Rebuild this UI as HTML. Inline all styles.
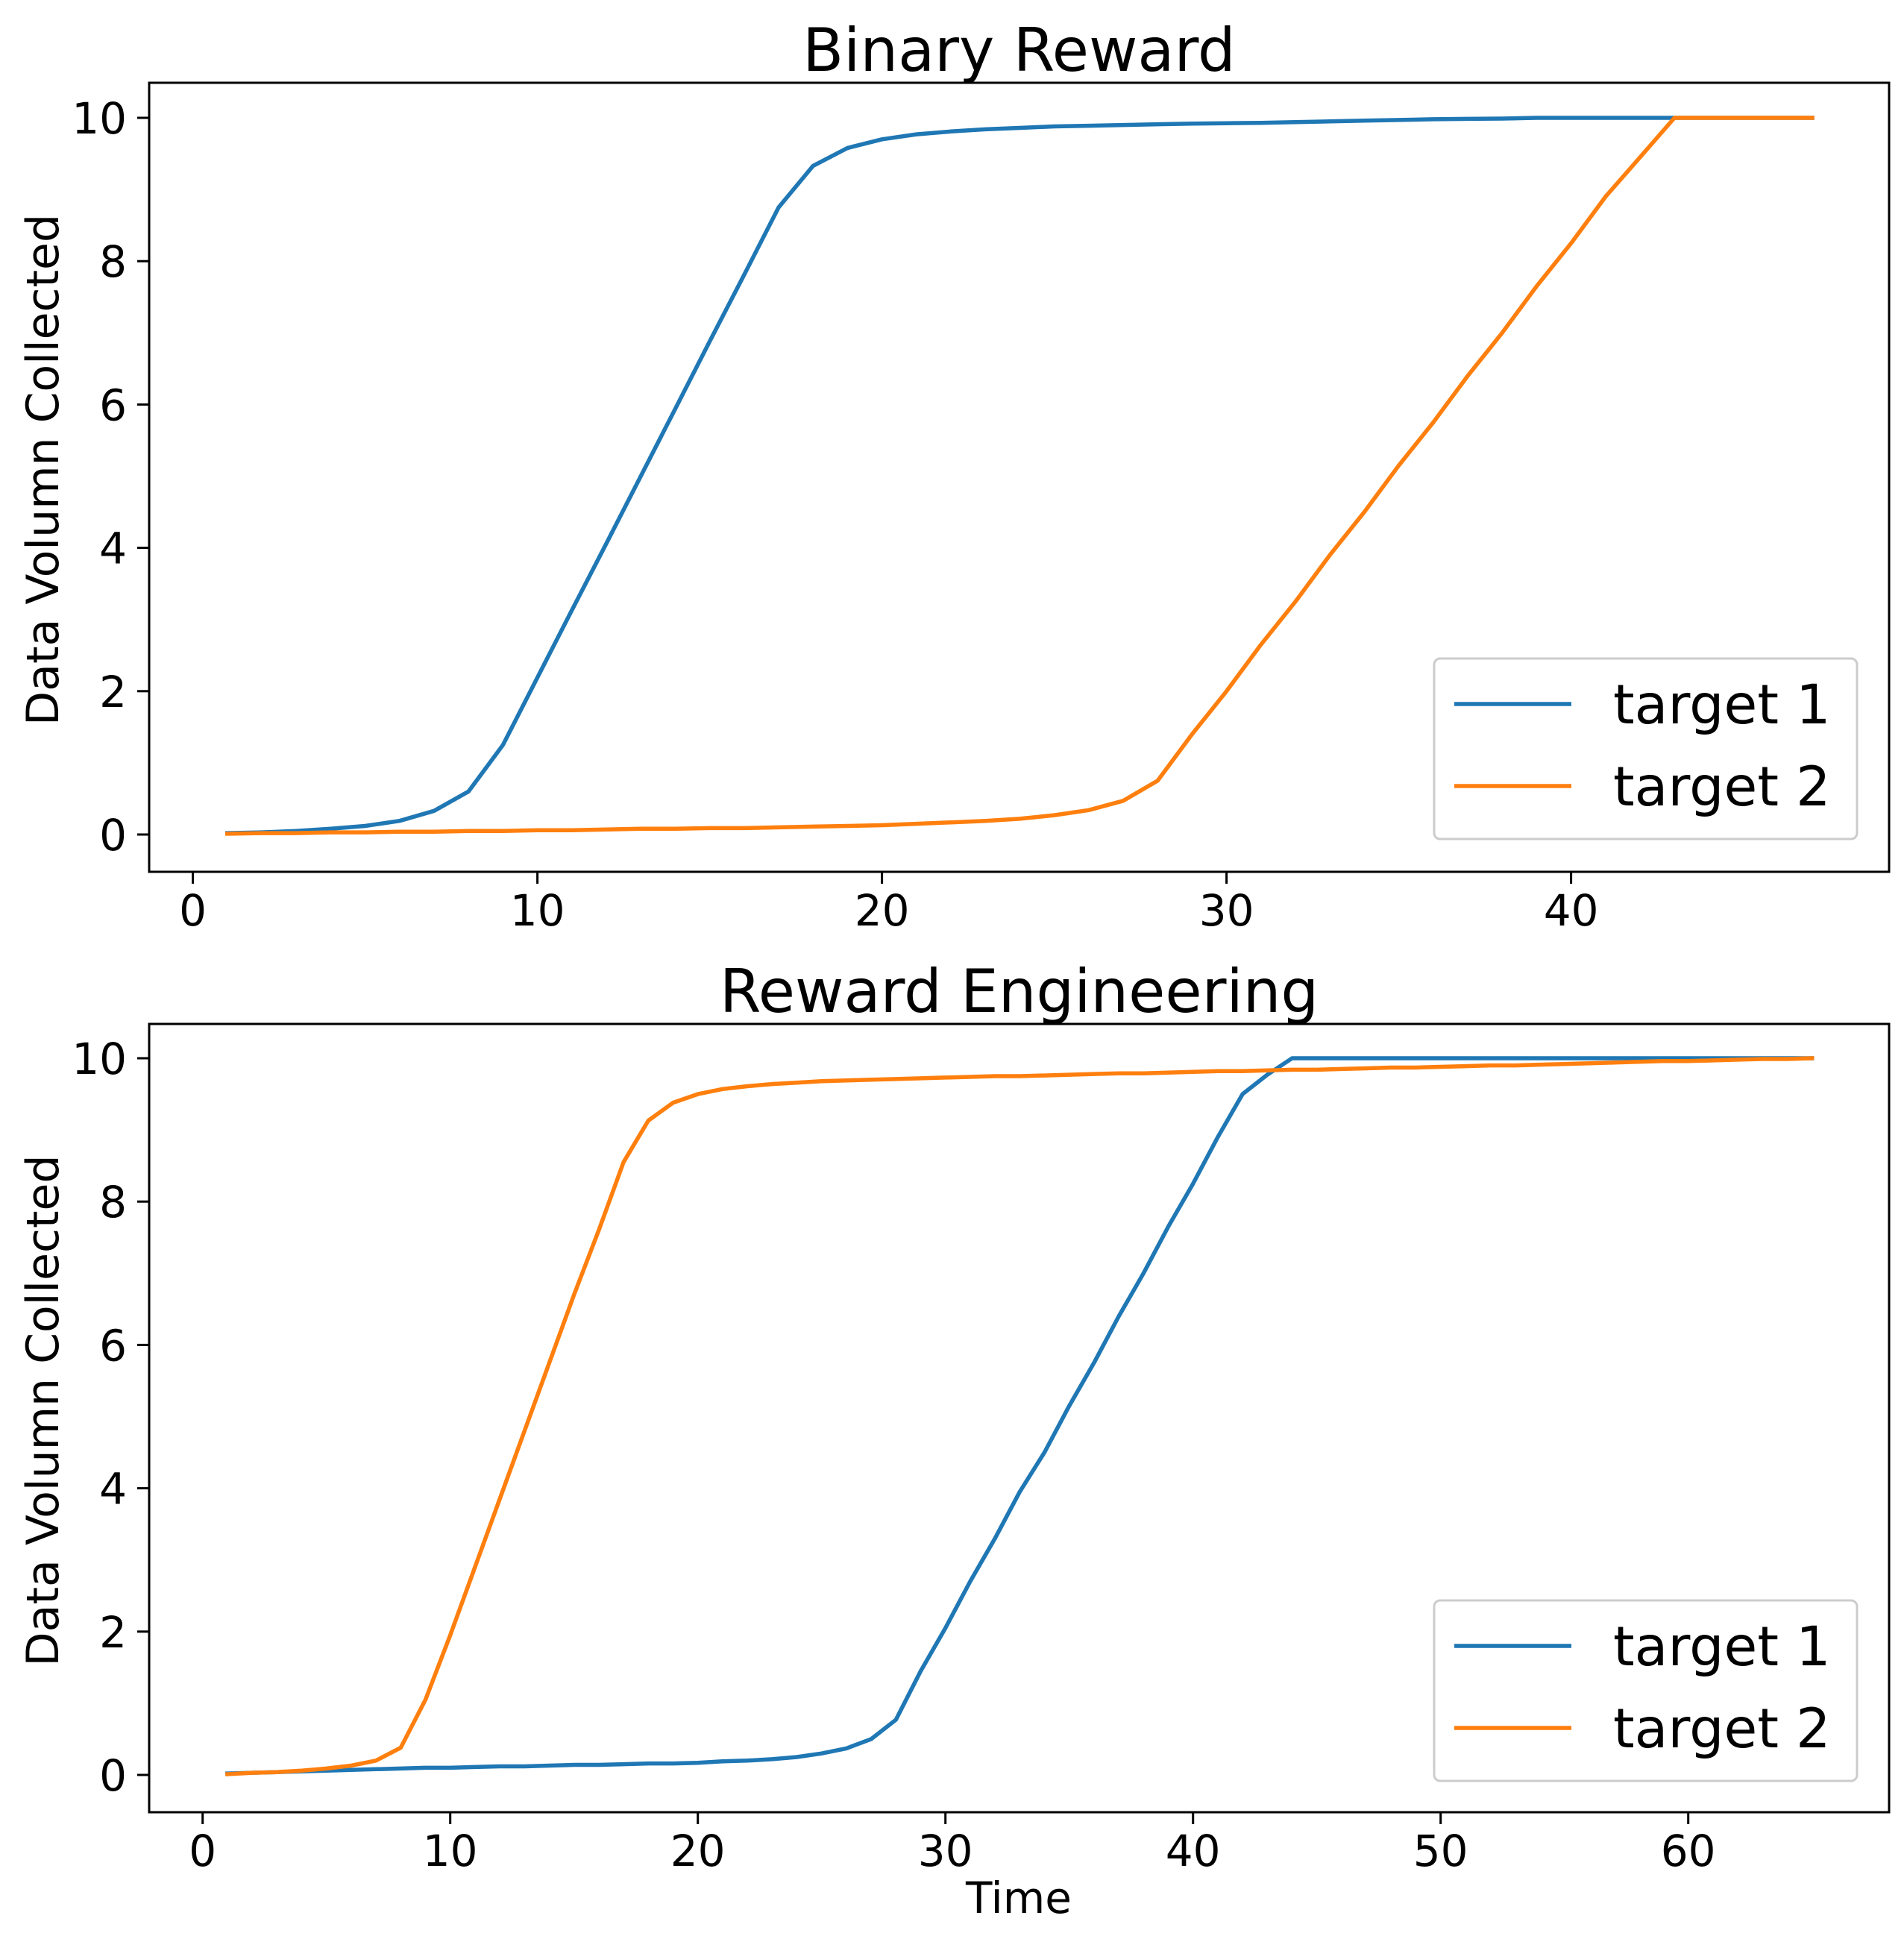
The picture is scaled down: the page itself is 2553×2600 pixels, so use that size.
<!DOCTYPE html>
<html><head><meta charset="utf-8"><style>
html,body{margin:0;padding:0;background:#fff;}
svg{display:block;font-family:"DejaVu Sans","Liberation Sans",sans-serif;}
</style></head><body>
<svg id="chart" width="2553" height="2600" viewBox="0 0 2553 2600" xmlns="http://www.w3.org/2000/svg"></svg>
<script>
const topT1 = [0.02,0.03,0.05,0.08,0.12,0.19,0.33,0.6,1.25,2.19,3.13,4.06,5.0,5.94,6.88,7.81,8.75,9.33,9.58,9.7,9.77,9.81,9.84,9.86,9.88,9.89,9.9,9.91,9.92,9.925,9.93,9.94,9.95,9.96,9.97,9.98,9.985,9.99,10,10,10,10,10,10,10,10,10];
const topT2 = [0.01,0.02,0.02,0.03,0.03,0.04,0.04,0.05,0.05,0.06,0.06,0.07,0.08,0.08,0.09,0.09,0.1,0.11,0.12,0.13,0.15,0.17,0.19,0.22,0.27,0.34,0.47,0.75,1.4,2.0,2.65,3.25,3.9,4.5,5.15,5.75,6.4,7.0,7.65,8.25,8.9,9.45,10,10,10,10,10];
const botT1 = [0.02,0.03,0.04,0.05,0.06,0.07,0.08,0.09,0.10,0.10,0.11,0.12,0.12,0.13,0.14,0.14,0.15,0.16,0.16,0.17,0.19,0.2,0.22,0.25,0.3,0.37,0.5,0.77,1.45,2.05,2.7,3.3,3.95,4.5,5.15,5.75,6.4,7.0,7.65,8.25,8.9,9.5,9.77,10,10,10,10,10,10,10,10,10,10,10,10,10,10,10,10,10,10,10,10,10,10];
const botT2 = [0.01,0.03,0.04,0.06,0.09,0.13,0.2,0.38,1.05,1.95,2.9,3.85,4.8,5.75,6.7,7.6,8.55,9.13,9.38,9.5,9.57,9.61,9.64,9.66,9.68,9.69,9.70,9.71,9.72,9.73,9.74,9.75,9.75,9.76,9.77,9.78,9.79,9.79,9.80,9.81,9.82,9.82,9.83,9.84,9.84,9.85,9.86,9.87,9.87,9.88,9.89,9.9,9.9,9.91,9.92,9.93,9.94,9.95,9.96,9.96,9.97,9.98,9.99,9.99,10];
const yTicks = [0,2,4,6,8,10];
const topXTicks = [0,10,20,30,40];
const botXTicks = [0,10,20,30,40,50,60];
const seriesNames = ["target 1","target 2"];
const colors = ["#1f77b4","#ff7f0e"];

const svg = document.getElementById('chart');
const NS = "http://www.w3.org/2000/svg";
function mk(tag, attrs, parent){
  const e = document.createElementNS(NS, tag);
  for (const k in attrs) e.setAttribute(k, attrs[k]);
  (parent||svg).appendChild(e);
  return e;
}

function panel(cfg){
  const g = mk('g', {});
  
  
  const {L,R,T,B,x0px,xPer,y0px,yPer} = cfg;
  const sx = v => x0px + v*xPer;
  const sy = v => y0px - v*yPer;
  cfg.xTicks.forEach(t => {
    const l = mk('line', {x1:sx(t), x2:sx(t), y1:B, y2:B+16, stroke:'#000','stroke-width':3}, g);
    
    
    const tx = mk('text', {x:sx(t), y:B+72, 'font-size':58, 'text-anchor':'middle', fill:'#000'}, g);
    tx.textContent = t;
    
    
  });
  yTicks.forEach(t => {
    const l = mk('line', {x1:L-16, x2:L, y1:sy(t), y2:sy(t), stroke:'#000','stroke-width':3}, g);
    
    
    const tx = mk('text', {x:L-30, y:sy(t)+21, 'font-size':58, 'text-anchor':'end', fill:'#000'}, g);
    tx.textContent = t;
    
    
  });
  cfg.series.forEach((s, i) => {
    const pts = s.map((v, k) => sx(k+1).toFixed(1) + ',' + sy(v).toFixed(1)).join(' ');
    const p = mk('polyline', {points:pts, fill:'none', stroke:colors[i], 'stroke-width':5.5, 'stroke-linejoin':'round', 'stroke-linecap':'square'}, g);
    
    
  });
  const frame = mk('rect', {x:L, y:T, width:R-L, height:B-T, fill:'none', stroke:'#000', 'stroke-width':3}, g);
  
  
  const title = mk('text', {x:(L+R)/2, y:T-16, 'font-size':80, 'text-anchor':'middle', fill:'#000'}, g);
  title.textContent = cfg.title;
  
  
  const yl = mk('text', {x:0, y:0, 'font-size':60, 'text-anchor':'middle', fill:'#000', transform:`translate(78,${(T+B)/2 - 10}) rotate(-90)`}, g);
  yl.textContent = 'Data Volumn Collected';
  
  
  const lg = mk('g', {}, g);
  
  
  const LT = cfg.legTop;
  mk('rect', {x:1923, y:LT, width:567, height:242, rx:8, fill:'#fff', 'fill-opacity':0.8, stroke:'#ccc', 'stroke-width':3}, lg);
  seriesNames.forEach((n, i) => {
    const yy = LT + 61 + i*110;
    const ln = mk('line', {x1:1950, x2:2107, y1:yy, y2:yy, stroke:colors[i], 'stroke-width':5.5}, lg);
    
    
    const t = mk('text', {x:2163, y:yy+26, 'font-size':73, fill:'#000'}, lg);
    t.textContent = n;
    
    
  });
}

panel({name:'binary-reward-panel', title:'Binary Reward', L:200, R:2533, T:111, B:1169,
  x0px:258.6, xPer:46.2, y0px:1119, yPer:96.1, xTicks:topXTicks, series:[topT1, topT2], legTop:883});
panel({name:'reward-engineering-panel', title:'Reward Engineering', L:200, R:2533, T:1373, B:2430,
  x0px:271.7, xPer:33.2, y0px:2380, yPer:96.1, xTicks:botXTicks, series:[botT1, botT2], legTop:2146});

const xl = mk('text', {x:1366, y:2565, 'font-size':58, 'text-anchor':'middle', fill:'#000'});
xl.textContent = 'Time';


</script>
</body></html>
